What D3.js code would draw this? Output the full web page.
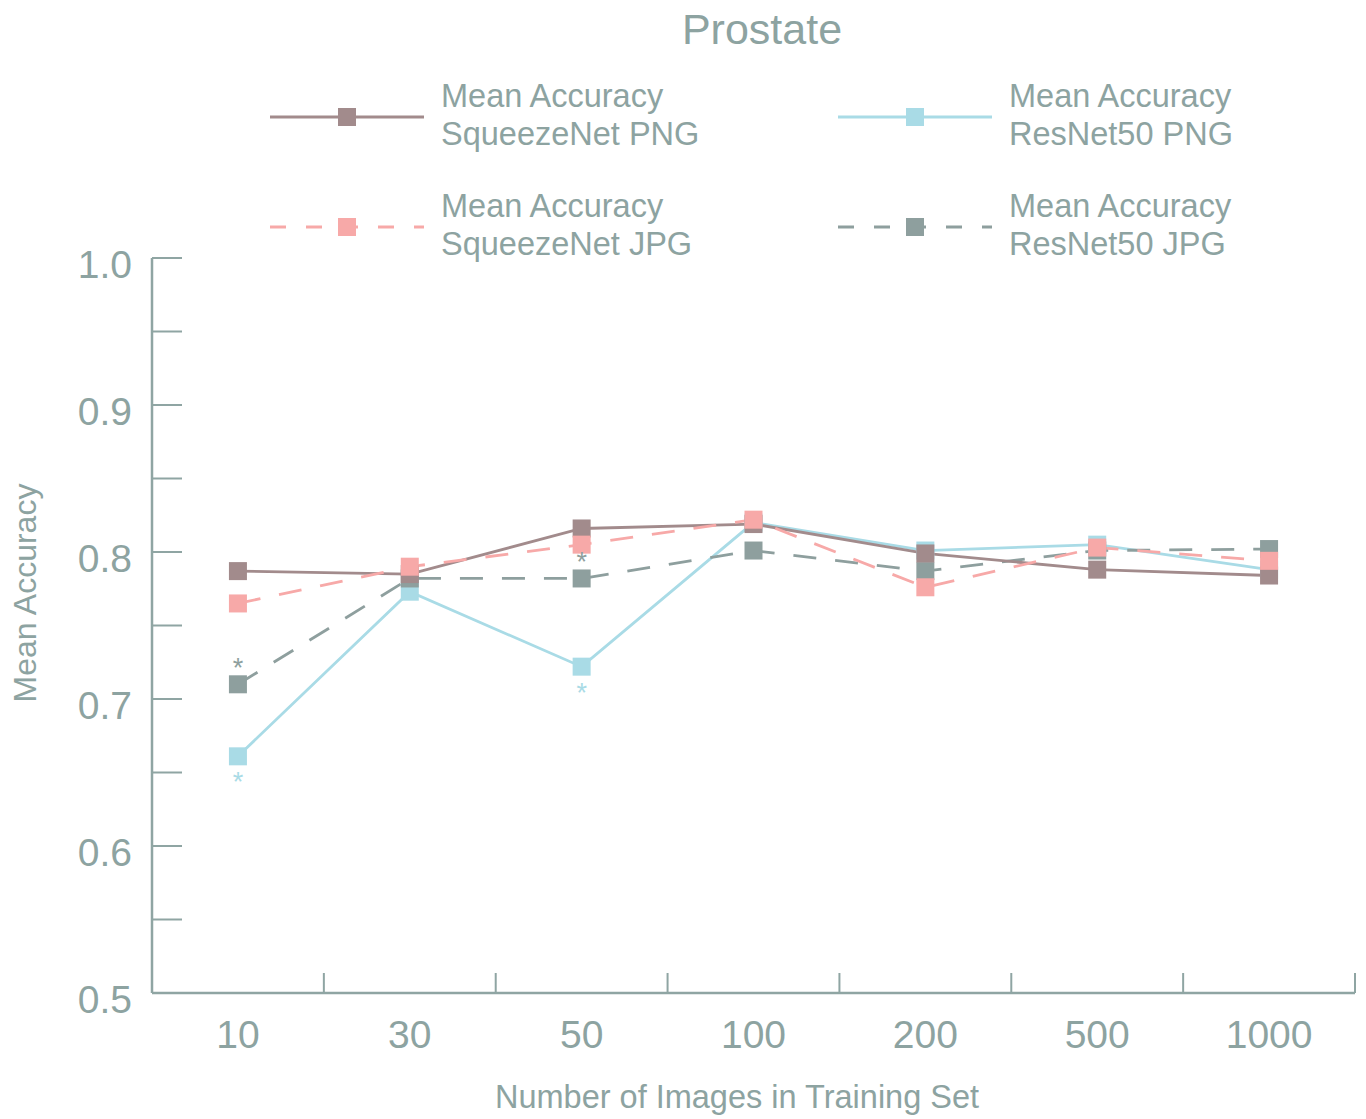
<!DOCTYPE html>
<html lang="en">
<head>
    <meta charset="UTF-8">
    <title>Prostate</title>
    <script src="https://d3js.org/d3.v7.min.js"></script>
    <style>
        body {
            margin: 0;
            background: #fff;
            font-family: "Liberation Sans", Arial, sans-serif;
        }
        svg text {
            fill: #8da3a1;
        }
    </style>
</head>
<body>
    <svg id="chart" width="1366" height="1119"></svg>

    <script>
        // Training set sizes
        const categories = ["10", "30", "50", "100", "200", "500", "1000"];

        // Mean accuracy per series
        const squeezePng = [0.787, 0.785, 0.816, 0.819, 0.799, 0.788, 0.784];
        const squeezeJpg = [0.765, 0.790, 0.805, 0.822, 0.776, 0.803, 0.794];
        const resnetPng  = [0.661, 0.773, 0.722, 0.820, 0.801, 0.805, 0.788];
        const resnetJpg  = [0.710, 0.782, 0.782, 0.801, 0.787, 0.801, 0.802];

        const yTicks = [0.5, 0.6, 0.7, 0.8, 0.9, 1.0];
        const yMinorTicks = [0.55, 0.65, 0.75, 0.85, 0.95];

        // significance stars: [series, category index, above/below]
        const stars = [
            { series: "resnetJpg", idx: 0, pos: "above" },
            { series: "resnetPng", idx: 0, pos: "below" },
            { series: "resnetJpg", idx: 2, pos: "above" },
            { series: "resnetPng", idx: 2, pos: "below" }
        ];

        const series = [
            { key: "resnetPng", name: ["Mean Accuracy", "ResNet50 PNG"], values: resnetPng, color: "#a9dbe6", dash: null },
            { key: "resnetJpg", name: ["Mean Accuracy", "ResNet50 JPG"], values: resnetJpg, color: "#8e9f9e", dash: "23,19" },
            { key: "squeezePng", name: ["Mean Accuracy", "SqueezeNet PNG"], values: squeezePng, color: "#a28b8c", dash: null },
            { key: "squeezeJpg", name: ["Mean Accuracy", "SqueezeNet JPG"], values: squeezeJpg, color: "#f7a9a8", dash: "23,19" }
        ];

        const axisColor = "#8fa5a3";
        const plotLeft = 152, plotRight = 1355, plotTop = 258, plotBottom = 993;

        const svg = d3.select("#chart");

        const x = d3.scaleBand().domain(categories).range([plotLeft, plotRight]);
        const y = d3.scaleLinear().domain([0.5, 1.0]).range([plotBottom, plotTop]);

        // title
        svg.append("text")
            .attr("x", 762).attr("y", 44)
            .attr("text-anchor", "middle")
            .style("font-size", "43px")
            .text("Prostate");

        // y axis
        const gy = svg.append("g");
        gy.append("line")
            .attr("x1", plotLeft).attr("x2", plotLeft)
            .attr("y1", y(1.0)).attr("y2", plotBottom)
            .attr("stroke", axisColor).attr("stroke-width", 2.5);
        gy.selectAll("line.tick")
            .data(yTicks.concat(yMinorTicks).filter(d => d > 0.5))
            .enter().append("line")
            .attr("class", "tick")
            .attr("x1", plotLeft).attr("x2", plotLeft + 30)
            .attr("y1", d => y(d)).attr("y2", d => y(d))
            .attr("stroke", axisColor).attr("stroke-width", 2);
        gy.selectAll("text")
            .data(yTicks)
            .enter().append("text")
            .attr("x", 132).attr("y", d => y(d) + 20)
            .attr("text-anchor", "end")
            .style("font-size", "39px")
            .text(d => d3.format(".1f")(d));

        svg.append("text")
            .attr("transform", `translate(36,${593}) rotate(-90)`)
            .attr("text-anchor", "middle")
            .style("font-size", "32px")
            .text("Mean Accuracy");

        // x axis
        const gx = svg.append("g");
        gx.append("line")
            .attr("x1", plotLeft).attr("x2", plotRight)
            .attr("y1", plotBottom).attr("y2", plotBottom)
            .attr("stroke", axisColor).attr("stroke-width", 2.5);
        gx.selectAll("line.tick")
            .data(categories.slice(1).map(c => x(c)).concat([plotRight]))
            .enter().append("line")
            .attr("class", "tick")
            .attr("x1", d => d).attr("x2", d => d)
            .attr("y1", plotBottom).attr("y2", plotBottom - 20)
            .attr("stroke", axisColor).attr("stroke-width", 2);
        gx.selectAll("text")
            .data(categories)
            .enter().append("text")
            .attr("x", d => x(d) + x.bandwidth() / 2)
            .attr("y", 1048)
            .attr("text-anchor", "middle")
            .style("font-size", "39px")
            .text(d => d);

        svg.append("text")
            .attr("x", 737).attr("y", 1108)
            .attr("text-anchor", "middle")
            .style("font-size", "32.5px")
            .text("Number of Images in Training Set");

        const cx = d => x(d) + x.bandwidth() / 2;
        const line = d3.line()
            .x((d, i) => cx(categories[i]))
            .y(d => y(d));

        // lines
        series.forEach(s => {
            svg.append("path")
                .datum(s.values)
                .attr("fill", "none")
                .attr("stroke", s.color)
                .attr("stroke-width", 2.8)
                .attr("stroke-dasharray", s.dash)
                .attr("d", line);
        });

        // markers
        const ms = 18;
        series.forEach(s => {
            svg.append("g").selectAll("rect")
                .data(s.values)
                .enter().append("rect")
                .attr("x", (d, i) => cx(categories[i]) - ms / 2)
                .attr("y", d => y(d) - ms / 2)
                .attr("width", ms).attr("height", ms)
                .attr("fill", s.color);
        });

        // stars
        stars.forEach(st => {
            const s = series.find(d => d.key === st.series);
            const v = s.values[st.idx];
            svg.append("text")
                .attr("x", cx(categories[st.idx]))
                .attr("y", st.pos === "above" ? y(v) - 7 : y(v) + 35)
                .attr("text-anchor", "middle")
                .style("font-size", "27px")
                .style("fill", s.color)
                .text("*");
        });

        // legend
        const legendItems = [
            { s: "squeezePng", lx: 270, ly: 117 },
            { s: "resnetPng", lx: 838, ly: 117 },
            { s: "squeezeJpg", lx: 270, ly: 227 },
            { s: "resnetJpg", lx: 838, ly: 227 }
        ];
        legendItems.forEach(item => {
            const s = series.find(d => d.key === item.s);
            const g = svg.append("g").attr("transform", `translate(${item.lx},${item.ly})`);
            g.append("line")
                .attr("x1", 0).attr("x2", 154)
                .attr("y1", 0).attr("y2", 0)
                .attr("stroke", s.color)
                .attr("stroke-width", 2.8)
                .attr("stroke-dasharray", s.dash ? "16,20" : null);
            g.append("rect")
                .attr("x", 77 - ms / 2).attr("y", -ms / 2)
                .attr("width", ms).attr("height", ms)
                .attr("fill", s.color);
            g.selectAll("text")
                .data(s.name)
                .enter().append("text")
                .attr("x", 171)
                .attr("y", (d, i) => -10 + i * 38)
                .style("font-size", "32.5px")
                .text(d => d);
        });
    </script>
</body>
</html>
